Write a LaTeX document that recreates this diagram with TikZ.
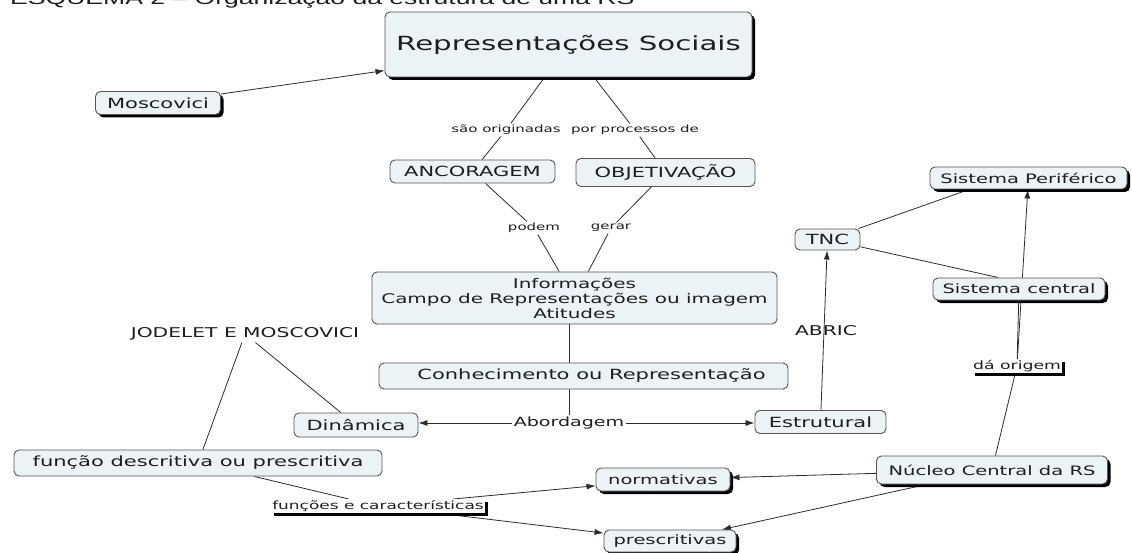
\documentclass[tikz,border=0pt]{standalone}
\usepackage{fontspec}
\setmainfont{DejaVu Sans}
\newfontfamily\vfont[FakeStretch=1.5]{DejaVu Sans}
\newfontfamily\tfont{Liberation Sans}
\usetikzlibrary{arrows.meta,shadows,backgrounds,calc}
\definecolor{boxfill}{RGB}{235,243,246}
\definecolor{boxline}{RGB}{85,85,85}
\definecolor{edgecol}{RGB}{45,45,45}
\definecolor{txt}{RGB}{30,30,30}
\tikzset{
  concept/.style={draw=boxline, fill=boxfill, rounded corners=5pt, line width=0.9pt,
    inner sep=0pt, text=txt, font=\vfont\fontsize{14}{16}\selectfont},
  shad/.style={drop shadow={shadow xshift=3pt, shadow yshift=-3pt, fill=black, opacity=1}},
  linklabel/.style={inner sep=1.5pt, text=txt, font=\vfont\fontsize{10}{12}\selectfont},
  linkshad/.style={fill=white, inner sep=1.2pt, text=txt, font=\vfont\fontsize{11.5}{13}\selectfont,
    drop shadow={shadow xshift=3pt, shadow yshift=-3pt, fill=black, opacity=1}},
  conn/.style={draw=edgecol, line width=0.8pt},
  arr/.style={conn, -{Latex[length=9pt,width=6pt]}},
  small13/.style={font=\vfont\fontsize{13}{15}\selectfont},
}
\begin{document}
\begin{tikzpicture}[x=1pt,y=-1pt]
\useasboundingbox (0,0) rectangle (1132,553);

\node[anchor=base west, inner sep=0pt, text=txt, font=\tfont\fontsize{17.7}{20}\selectfont] (title) at (10,4.5) {\scalebox{1.5}[1]{ESQUEMA 2 – Organização da estrutura de uma RS}};

\node[concept, shad, minimum width=367pt, minimum height=65pt, font=\vfont\fontsize{19.5}{22}\selectfont] (rs) at (568.5,44.5) {Representações Sociais};
\node[concept, shad, minimum width=125pt, minimum height=23pt] (mosc) at (158,103) {Moscovici};
\node[concept, minimum width=165pt, minimum height=23pt] (anc) at (472.5,171.5) {ANCORAGEM};
\node[concept, minimum width=179pt, minimum height=28pt] (obj) at (665.5,172.5) {OBJETIVAÇÃO};
\node[linklabel] (l1) at (506,130) {são originadas};
\node[linklabel] (l2) at (635,130) {por processos de};
\node[linklabel] (l3) at (534,228) {podem};
\node[linklabel] (l4) at (611,228) {gerar};
\node[concept, minimum width=405pt, minimum height=52pt, align=center, font=\vfont\fontsize{13.3}{15}\selectfont] (info) at (574.5,298) {Informações\\Campo de Representações ou imagem\\Atitudes};
\node[concept, minimum width=409pt, minimum height=26pt] (conh) at (583.5,376) {\hspace*{16pt}Conhecimento ou Representação};
\node[linklabel, font=\vfont\fontsize{12.7}{14}\selectfont] (abord) at (569,423) {Abordagem};
\node[concept, minimum width=124pt, minimum height=24pt] (din) at (356,425) {Dinâmica};
\node[concept, minimum width=131pt, minimum height=23pt] (est) at (820.5,422) {Estrutural};
\node[linklabel, inner sep=2pt, font=\vfont\fontsize{13.5}{15}\selectfont] (jod) at (245,334) {JODELET E MOSCOVICI};
\node[concept, minimum width=368pt, minimum height=26pt] (func) at (198,463) {função descritiva ou prescritiva};
\node[linkshad, font=\vfont\fontsize{11.3}{13}\selectfont] (fec) at (378,506) {funções e características};
\node[concept, shad, small13, minimum width=134pt, minimum height=23pt] (norm) at (663,479.5) {normativas};
\node[concept, shad, small13, minimum width=132pt, minimum height=22pt] (presc) at (670,541) {prescritivas};
\node[concept, shad, small13, minimum width=231pt, minimum height=28pt] (nuc) at (992,470) {Núcleo Central da RS};
\node[linkshad] (dao) at (1017,366) {dá origem};
\node[concept, shad, small13, minimum width=172pt, minimum height=22pt] (sc) at (1019,289) {Sistema central};
\node[concept, shad, small13, minimum width=197pt, minimum height=22pt] (sp) at (1028.5,178) {Sistema Periférico};
\node[concept, minimum width=65pt, minimum height=21pt] (tnc) at (827.5,239.5) {TNC};
\node[linklabel, inner sep=0pt, font=\vfont\fontsize{13.5}{15}\selectfont] (abric) at (826,331) {ABRIC};

\begin{scope}[on background layer]
\fill[white] (0,0) rectangle (1132,553);
\draw[arr] (mosc) -- (rs);
\draw[conn] (rs) -- (l1);
\draw[conn] (l1) -- (anc);
\draw[conn] (rs) -- (l2);
\draw[conn] (l2) -- (obj);
\draw[conn] (anc) -- (l3);
\draw[conn] (l3) -- (info);
\draw[conn] (obj) -- (l4);
\draw[conn] (l4) -- (info);
\draw[conn] (abord.north |- info.south) -- (abord.north |- conh.north);
\draw[conn] (abord.north |- conh.south) -- (abord.north);
\draw[arr] (abord.west) -- (abord.west -| din.east);
\draw[arr] (abord.east) -- (abord.east -| est.west);
\draw[arr] (est) -- (tnc);
\draw[conn] (tnc) -- ($(sp.south west)!0.2!(sp.south east)$);
\draw[conn] (tnc) -- ($(sc.north west)!0.38!(sc.north east)$);
\draw[conn] (nuc) -- (dao);
\draw[conn] (dao) -- (sc);
\draw[arr] (dao) -- (sp);
\draw[conn] (jod) -- (din);
\draw[conn] (jod) -- (func);
\draw[conn] (func) -- (fec);
\draw[arr] (fec) -- (norm);
\draw[arr] (fec) -- (presc);
\draw[arr] (nuc) -- (norm);
\draw[arr] (nuc) -- (presc);
\end{scope}
\end{tikzpicture}
\end{document}
